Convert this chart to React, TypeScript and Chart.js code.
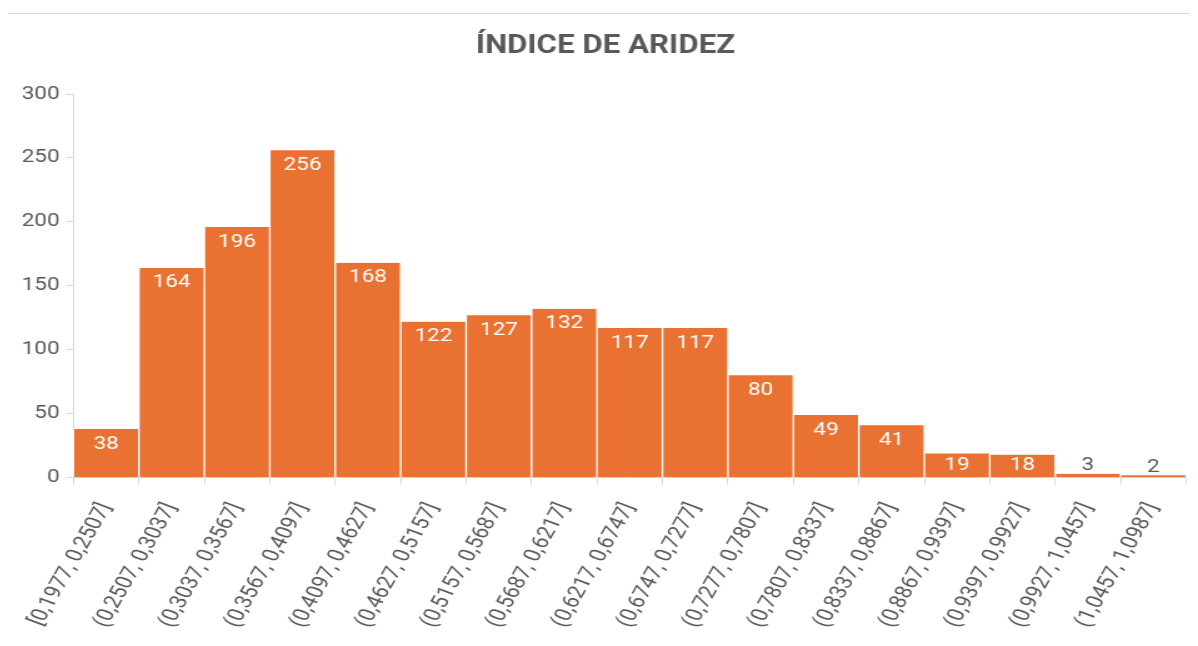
import React, { useEffect, useRef } from "react";
import { Chart, registerables } from "chart.js";

Chart.register(...registerables);

const categories = [
  "[0,1977, 0,2507]",
  "(0,2507, 0,3037]",
  "(0,3037, 0,3567]",
  "(0,3567, 0,4097]",
  "(0,4097, 0,4627]",
  "(0,4627, 0,5157]",
  "(0,5157, 0,5687]",
  "(0,5687, 0,6217]",
  "(0,6217, 0,6747]",
  "(0,6747, 0,7277]",
  "(0,7277, 0,7807]",
  "(0,7807, 0,8337]",
  "(0,8337, 0,8867]",
  "(0,8867, 0,9397]",
  "(0,9397, 0,9927]",
  "(0,9927, 1,0457]",
  "(1,0457, 1,0987]",
];

const counts = [38, 164, 196, 256, 168, 122, 127, 132, 117, 117, 80, 49, 41, 19, 18, 3, 2];

const yTicks = [0, 50, 100, 150, 200, 250, 300];

const titleText = "ÍNDICE DE ARIDEZ";

const FONT = "Roboto";
const TEXT_COLOR = "#595959";
const BAR_COLOR = "#E97132";
const AXIS_COLOR = "#D9D9D9";

// The reference rendering is horizontally widened; we draw on a narrower
// canvas and stretch it with CSS so text and marks keep the same look.
const STRETCH = 1.25;
const OUTER_W = 1190;
const CANVAS_W = OUTER_W / STRETCH;
const CANVAS_H = 632;

const valueLabels = {
  id: "valueLabels",
  afterDatasetsDraw(chart: any) {
    const ctx = chart.ctx;
    const meta = chart.getDatasetMeta(0);
    ctx.save();
    ctx.font = `18px ${FONT}`;
    ctx.textAlign = "center";
    ctx.textBaseline = "middle";
    meta.data.forEach((bar: any, i: number) => {
      const v = chart.data.datasets[0].data[i];
      const h = bar.base - bar.y;
      let y: number;
      if (h >= 20) {
        ctx.fillStyle = "#FFFFFF";
        y = bar.y + Math.min(15, h / 2);
      } else {
        ctx.fillStyle = TEXT_COLOR;
        y = bar.y - 8;
      }
      ctx.fillText(String(v), bar.x, y);
    });
    ctx.restore();
  },
};

export default function App() {
  const canvasRef = useRef<HTMLCanvasElement | null>(null);

  useEffect(() => {
    if (!canvasRef.current) return;
    const chart = new Chart(canvasRef.current, {
      type: "bar",
      data: {
        labels: categories,
        datasets: [
          {
            data: counts,
            backgroundColor: BAR_COLOR,
            borderColor: "#FFFFFF",
            borderWidth: { top: 0, left: 1, right: 1, bottom: 0 },
            barPercentage: 1,
            categoryPercentage: 1,
          },
        ],
      },
      options: {
        animation: false,
        responsive: true,
        maintainAspectRatio: false,
        layout: { padding: { left: 6, right: 2, top: 2, bottom: 0 } },
        plugins: {
          legend: { display: false },
          tooltip: { enabled: false },
          title: {
            display: true,
            text: titleText,
            color: TEXT_COLOR,
            font: { family: FONT, size: 25, weight: "bold" },
            padding: { top: 16, bottom: 32 },
          },
        },
        scales: {
          x: {
            offset: true,
            grid: {
              display: true,
              drawOnChartArea: false,
              offset: true,
              tickLength: 7,
              color: AXIS_COLOR,
            },
            border: { display: true, color: AXIS_COLOR },
            ticks: {
              color: TEXT_COLOR,
              font: { family: FONT, size: 19 },
              minRotation: 65,
              maxRotation: 65,
              autoSkip: false,
              padding: 15,
            },
          },
          y: {
            min: 0,
            max: 300,
            afterBuildTicks: (axis: any) => {
              axis.ticks = yTicks.map((v) => ({ value: v }));
            },
            grid: {
              display: true,
              drawOnChartArea: false,
              tickLength: 6,
              color: AXIS_COLOR,
            },
            border: { display: true, color: AXIS_COLOR },
            ticks: {
              color: TEXT_COLOR,
              font: { family: FONT, size: 18 },
              padding: 5,
            },
          },
        },
      },
      plugins: [valueLabels],
    });
    return () => chart.destroy();
  }, []);

  return (
    <div
      style={{
        marginTop: 5,
        marginLeft: -1,
        width: 1200,
        height: 640,
        borderTop: "1px solid #D9D9D9",
        borderLeft: "1px solid #D9D9D9",
        boxSizing: "border-box",
        background: "#FFFFFF",
        overflow: "hidden",
      }}
    >
      <div
        style={{
          position: "relative",
          width: CANVAS_W,
          height: CANVAS_H,
          transform: `scaleX(${STRETCH})`,
          transformOrigin: "0 0",
        }}
      >
        <canvas ref={canvasRef} />
      </div>
    </div>
  );
}
